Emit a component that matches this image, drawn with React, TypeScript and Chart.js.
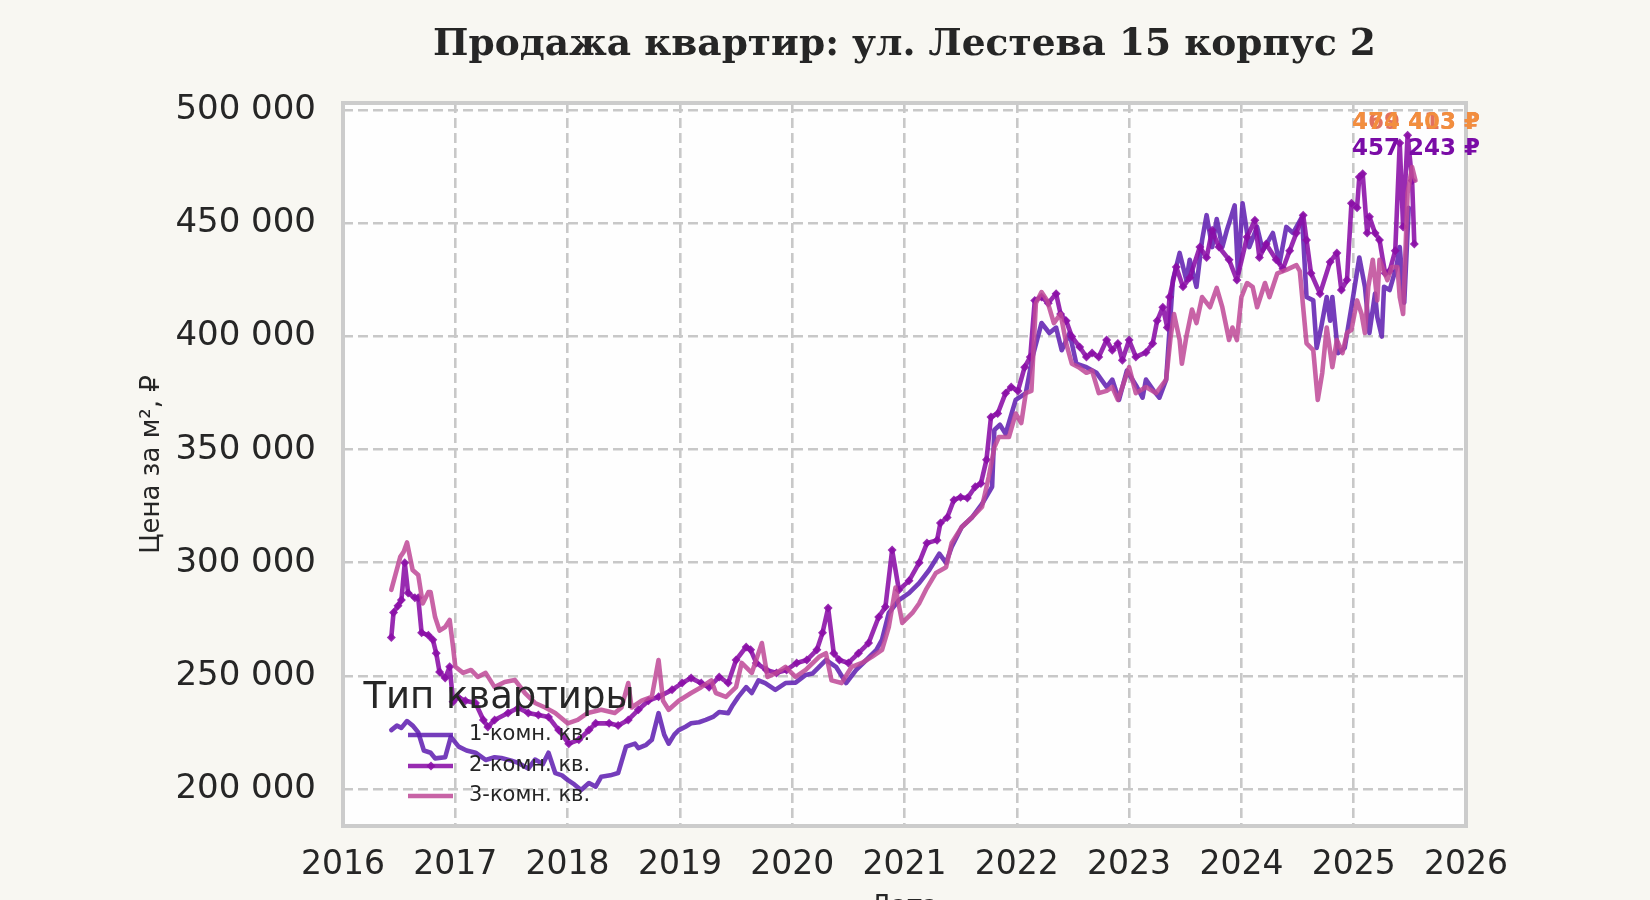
import { useEffect, useRef } from "react";
import { Chart, registerables } from "chart.js";

Chart.register(...registerables);

// 1-комн. кв.
const dates1 = [
  2016.43, 2016.48, 2016.52, 2016.57, 2016.62, 2016.67, 2016.72, 2016.78, 2016.82, 2016.91,
  2016.96, 2017.03, 2017.1, 2017.18, 2017.27, 2017.35, 2017.41, 2017.5, 2017.56, 2017.65,
  2017.71, 2017.78, 2017.83, 2017.89, 2017.95, 2018.0, 2018.06, 2018.12, 2018.19, 2018.25,
  2018.3, 2018.38, 2018.45, 2018.52, 2018.6, 2018.63, 2018.7, 2018.75, 2018.81, 2018.86,
  2018.9, 2018.95, 2018.99, 2019.05, 2019.1, 2019.17, 2019.23, 2019.3, 2019.35, 2019.43,
  2019.47, 2019.52, 2019.59, 2019.64, 2019.7, 2019.76, 2019.85, 2019.94, 2020.03, 2020.12,
  2020.18, 2020.24, 2020.3, 2020.39, 2020.44, 2020.48, 2020.57, 2020.66, 2020.75, 2020.8,
  2020.86, 2020.95, 2021.04, 2021.13, 2021.22, 2021.31, 2021.37, 2021.42, 2021.51, 2021.6,
  2021.69, 2021.78, 2021.8, 2021.85, 2021.9, 2021.99, 2022.08, 2022.14, 2022.22, 2022.29,
  2022.35, 2022.4, 2022.47, 2022.53, 2022.62, 2022.71, 2022.8, 2022.85, 2022.91, 2022.98,
  2023.07, 2023.12, 2023.15, 2023.22, 2023.27, 2023.33, 2023.39, 2023.45, 2023.51, 2023.54,
  2023.6, 2023.65, 2023.69, 2023.74, 2023.78, 2023.83, 2023.87, 2023.94, 2023.97, 2024.01,
  2024.07, 2024.14, 2024.19, 2024.28, 2024.34, 2024.4, 2024.46, 2024.54, 2024.58, 2024.64,
  2024.67, 2024.71, 2024.76, 2024.79, 2024.81, 2024.86, 2024.92, 2024.98, 2025.05, 2025.1,
  2025.14, 2025.19, 2025.21, 2025.25, 2025.27, 2025.32, 2025.38, 2025.41, 2025.45, 2025.49,
];
const values1 = [
  226000, 228000, 227000, 230000, 228000, 225000, 217000, 216000, 213500, 214000,
  223000, 218700, 217000, 216000, 212800, 214000, 213700, 212500, 211500, 209000,
  213000, 211000, 216000, 207000, 206000, 204000, 202000, 199500, 202600, 201000,
  205400, 206000, 207000, 218700, 220000, 218000, 219500, 221700, 233500, 224000,
  220000, 224000, 226000, 227500, 229000, 229500, 230500, 232000, 234000, 233500,
  237000, 240700, 245000, 242400, 248000, 246800, 243800, 246800, 247000, 250400,
  251000, 254000, 257000, 254000, 250000, 246800, 252600, 257000, 261500, 266000,
  277800, 283500, 286600, 291000, 296800, 304000, 300000, 307000, 315800, 320000,
  326000, 333600, 358700, 361000, 357000, 372000, 375000, 391000, 406000, 401600,
  404000, 394000, 401600, 388000, 386500, 384000, 377700, 381000, 372000, 385000,
  377700, 373000, 381000, 376000, 373000, 381000, 425000, 437000, 425000, 434000,
  422000, 442700, 453700, 439600, 452000, 439600, 447000, 458000, 428000, 459000,
  439600, 448500, 438000, 445800, 432500, 448500, 445800, 453000, 417500, 416000,
  395000, 404000, 417500, 407000, 417500, 392700, 395000, 413000, 435000, 422000,
  401600, 419000, 408700, 400000, 422000, 420600, 430800, 439600, 415000, 457000,
];

// 2-комн. кв.
const dates2 = [
  2016.43, 2016.45, 2016.49, 2016.52, 2016.55, 2016.58, 2016.64, 2016.67, 2016.7, 2016.76,
  2016.8, 2016.83, 2016.86, 2016.91, 2016.95, 2016.98, 2017.02, 2017.09, 2017.18, 2017.25,
  2017.29, 2017.35, 2017.47, 2017.56, 2017.65, 2017.74, 2017.83, 2017.92, 2018.01, 2018.1,
  2018.19, 2018.25, 2018.37, 2018.45, 2018.54, 2018.63, 2018.72, 2018.81, 2018.93, 2019.02,
  2019.1, 2019.19, 2019.26, 2019.35, 2019.43, 2019.5, 2019.59, 2019.63, 2019.68, 2019.77,
  2019.86, 2019.95, 2020.04, 2020.13, 2020.22, 2020.27, 2020.32, 2020.37, 2020.42, 2020.5,
  2020.59, 2020.68, 2020.77, 2020.83, 2020.89, 2020.95, 2021.04, 2021.13, 2021.2, 2021.29,
  2021.32, 2021.38, 2021.44, 2021.5, 2021.56, 2021.63, 2021.68, 2021.73, 2021.77, 2021.83,
  2021.9, 2021.95, 2022.01, 2022.07, 2022.12, 2022.16, 2022.22, 2022.28, 2022.35, 2022.39,
  2022.44, 2022.49, 2022.56, 2022.62, 2022.67, 2022.73, 2022.8, 2022.85, 2022.9, 2022.94,
  2023.0, 2023.06, 2023.15, 2023.21, 2023.25, 2023.3, 2023.34, 2023.36, 2023.42, 2023.48,
  2023.54, 2023.63, 2023.69, 2023.74, 2023.8, 2023.89, 2023.96, 2024.05, 2024.12, 2024.16,
  2024.22, 2024.31, 2024.37, 2024.43, 2024.49, 2024.55, 2024.58, 2024.62, 2024.7, 2024.79,
  2024.85, 2024.89, 2024.94, 2024.98, 2025.03, 2025.05, 2025.08, 2025.12, 2025.14, 2025.19,
  2025.23, 2025.28, 2025.32, 2025.37, 2025.41, 2025.44, 2025.48, 2025.52, 2025.54,
];
const values2 = [
  267000, 278000, 281000, 283500, 300000, 286600, 284500, 284500, 269000, 268000,
  266000, 260000, 251700, 249000, 254000, 238500, 240700, 239000, 238000, 230500,
  227400, 230500, 233600, 235800, 233600, 232700, 231800, 226000, 220000, 221700,
  226000, 229000, 229000, 228000, 230500, 235000, 239000, 240700, 243800, 246800,
  249000, 246800, 245000, 249500, 246800, 257000, 262800, 261500, 255700, 252600,
  251300, 252600, 255700, 257000, 261500, 269000, 280000, 260000, 257000, 255700,
  260000, 264500, 276000, 280500, 305600, 288000, 292000, 300000, 308700, 310000,
  317600, 320000, 327800, 329000, 328600, 333600, 335000, 345500, 364500, 366000,
  375000, 377700, 376000, 386500, 391000, 416000, 417500, 414800, 419000, 410000,
  407000, 400000, 395400, 391000, 392700, 391000, 398500, 394000, 397000, 389600,
  398500, 391000, 393000, 397000, 407000, 413000, 404000, 417500, 430800, 422000,
  426000, 439600, 435000, 447000, 439600, 434000, 425000, 444000, 451500, 435000,
  441000, 434000, 430000, 438000, 445800, 453700, 442700, 428000, 419000, 433000,
  437000, 420600, 425000, 459000, 457000, 470600, 472000, 445800, 453000, 445800,
  442700, 428000, 429000, 438000, 485600, 448500, 489000, 469000, 441000,
];

// 3-комн. кв.
const dates3 = [
  2016.43, 2016.51, 2016.54, 2016.57, 2016.62, 2016.67, 2016.71, 2016.76, 2016.78, 2016.82,
  2016.86, 2016.91, 2016.95, 2016.98, 2017.0, 2017.07, 2017.14, 2017.2, 2017.27, 2017.35,
  2017.44, 2017.53, 2017.62, 2017.71, 2017.8, 2017.89, 2018.0, 2018.09, 2018.18, 2018.3,
  2018.42, 2018.48, 2018.54, 2018.57, 2018.66, 2018.75, 2018.81, 2018.85, 2018.9, 2018.99,
  2019.1, 2019.19, 2019.28, 2019.32, 2019.41, 2019.5, 2019.55, 2019.64, 2019.73, 2019.78,
  2019.86, 2019.94, 2020.03, 2020.12, 2020.24, 2020.3, 2020.35, 2020.44, 2020.53, 2020.62,
  2020.71, 2020.8, 2020.86, 2020.92, 2020.98, 2021.07, 2021.13, 2021.19, 2021.28, 2021.37,
  2021.42, 2021.51, 2021.6, 2021.69, 2021.75, 2021.8, 2021.84, 2021.93, 2021.99, 2022.04,
  2022.08, 2022.13, 2022.17, 2022.22, 2022.27, 2022.33, 2022.39, 2022.44, 2022.49, 2022.55,
  2022.62, 2022.67, 2022.73, 2022.8, 2022.85, 2022.9, 2022.94, 2023.0, 2023.06, 2023.15,
  2023.24, 2023.33, 2023.37, 2023.4, 2023.45, 2023.47, 2023.51, 2023.56, 2023.6, 2023.65,
  2023.72, 2023.78, 2023.83, 2023.89, 2023.92, 2023.96, 2024.0, 2024.05, 2024.1, 2024.14,
  2024.21, 2024.25, 2024.32, 2024.4, 2024.49, 2024.52, 2024.58, 2024.64, 2024.68, 2024.72,
  2024.76, 2024.81, 2024.85, 2024.9, 2024.94, 2024.98, 2025.03, 2025.07, 2025.1, 2025.13,
  2025.17, 2025.21, 2025.23, 2025.3, 2025.34, 2025.39, 2025.41, 2025.44, 2025.48, 2025.52,
  2025.55,
];
const values3 = [
  288000, 302600, 304800, 309000, 296800, 294600, 282000, 287000, 287000, 276000,
  270000, 271600, 274700, 262800, 254000, 251300, 252600, 249500, 251300, 245000,
  247300, 248200, 242400, 238000, 236000, 233600, 229000, 230500, 233600, 235000,
  233600, 236000, 246800, 236000, 239000, 240700, 257000, 239000, 235000, 239000,
  242400, 245000, 248000, 242400, 240700, 245000, 255700, 251300, 264500, 249500,
  251300, 254000, 249500, 252600, 258400, 260000, 248000, 246800, 254000, 255700,
  258400, 261500, 271600, 289000, 273400, 277800, 282000, 288000, 295500, 298000,
  308700, 315800, 320000, 324700, 337900, 351000, 355600, 355600, 366000, 361800,
  375000, 376000, 414800, 419700, 416000, 406000, 410000, 397000, 388000, 386500,
  384000, 385000, 375000, 376000, 377700, 372000, 377700, 386500, 375000, 377700,
  375000, 381000, 400000, 410000, 398500, 388000, 400000, 412000, 406000, 417500,
  413000, 421500, 413000, 398500, 404000, 398500, 417500, 423700, 422000, 413000,
  423700, 417500, 428000, 429500, 431600, 429000, 397000, 394000, 372000, 384000,
  404000, 386500, 398500, 392700, 401600, 403000, 416000, 410000, 401600, 422000,
  434000, 416000, 434000, 425000, 430800, 430800, 417500, 410000, 463500, 475000,
  469000,
];

const seriesNames = ["1-комн. кв.", "2-комн. кв.", "3-комн. кв."];
const seriesColors = ["rgba(98, 34, 178, 0.88)", "rgba(138, 14, 166, 0.88)", "rgba(190, 72, 150, 0.85)"];
const xTicks = [2016, 2017, 2018, 2019, 2020, 2021, 2022, 2023, 2024, 2025, 2026];
const yTicks = [200000, 250000, 300000, 350000, 400000, 450000, 500000];
const endLabels = ["469 413 ₽", "474 403 ₽", "457 243 ₽"];
const endLabelColors = ["#e2715f", "#f28e3e", "#7a0ca6"];

const TITLE = "Продажа квартир: ул. Лестева 15 корпус 2";
const LEGEND_TITLE = "Тип квартиры";
const Y_TITLE = "Цена за м², ₽";
const X_TITLE = "Дата";
const INK = "#262626";
const GRID = "#c8c8c8";

const fmt = (v: number) => String(Math.round(v)).replace(/\B(?=(\d{3})+(?!\d))/g, " ");

const toPoints = (xs: number[], ys: number[]) => xs.map((x, i) => ({ x, y: ys[i] }));

const decor = {
  id: "decor",
  beforeDraw(chart: any) {
    const { ctx, chartArea: a } = chart;
    ctx.save();
    ctx.fillStyle = "#f8f7f2";
    ctx.fillRect(0, 0, chart.width, chart.height);
    ctx.fillStyle = "#fefefe";
    ctx.fillRect(a.left, a.top, a.right - a.left, a.bottom - a.top);
    ctx.restore();
  },
  afterDraw(chart: any) {
    const { ctx, chartArea: a } = chart;
    ctx.save();

    // рамка
    ctx.strokeStyle = "#cccccc";
    ctx.lineWidth = 4;
    ctx.strokeRect(a.left, a.top, a.right - a.left, a.bottom - a.top);

    // заголовок
    ctx.fillStyle = INK;
    ctx.textAlign = "center";
    ctx.textBaseline = "alphabetic";
    ctx.font = "bold 37.5px 'DejaVu Serif'";
    ctx.fillText(TITLE, (a.left + a.right) / 2, 55);

    // подписи осей
    ctx.font = "26px 'DejaVu Sans'";
    ctx.fillText(X_TITLE, (a.left + a.right) / 2, 914);
    ctx.save();
    ctx.translate(152, (a.top + a.bottom) / 2);
    ctx.rotate(-Math.PI / 2);
    ctx.textBaseline = "middle";
    ctx.fillText(Y_TITLE, 0, 0);
    ctx.restore();

    // легенда
    ctx.font = "37px 'DejaVu Sans'";
    ctx.fillText(LEGEND_TITLE, 499, 708);
    ctx.textAlign = "left";
    ctx.textBaseline = "middle";
    ctx.font = "21px 'DejaVu Sans'";
    const rows = [735, 766, 796];
    seriesNames.forEach((name, i) => {
      ctx.strokeStyle = seriesColors[i];
      ctx.lineWidth = 4.5;
      ctx.beginPath();
      ctx.moveTo(408, rows[i]);
      ctx.lineTo(453, rows[i]);
      ctx.stroke();
      if (i === 1) {
        ctx.fillStyle = seriesColors[i];
        ctx.beginPath();
        ctx.moveTo(431, rows[i] - 4.5);
        ctx.lineTo(435.5, rows[i]);
        ctx.lineTo(431, rows[i] + 4.5);
        ctx.lineTo(426.5, rows[i]);
        ctx.closePath();
        ctx.fill();
      }
      ctx.fillStyle = INK;
      ctx.fillText(name, 469, rows[i]);
    });

    // последние значения
    ctx.textBaseline = "alphabetic";
    ctx.font = "bold 23px 'DejaVu Sans'";
    const ys = [129, 129, 155];
    endLabels.forEach((t, i) => {
      ctx.fillStyle = endLabelColors[i];
      ctx.fillText(t, 1352, ys[i]);
    });

    ctx.restore();
  },
};

const App = () => {
  const canvasRef = useRef<HTMLCanvasElement | null>(null);

  useEffect(() => {
    if (!canvasRef.current) return;
    Chart.defaults.font.family = "'DejaVu Sans'";

    const line = (i: number, xs: number[], ys: number[], order: number) => ({
      label: seriesNames[i],
      data: toPoints(xs, ys),
      borderColor: seriesColors[i],
      backgroundColor: seriesColors[i],
      borderWidth: 4.6,
      borderJoinStyle: "round" as const,
      borderCapStyle: "round" as const,
      pointRadius: i === 1 ? 4.5 : 0,
      pointStyle: "rectRot" as const,
      pointBorderWidth: 0,
      tension: 0,
      fill: false,
      order,
    });

    const chart = new Chart(canvasRef.current, {
      type: "line",
      data: {
        datasets: [
          line(0, dates1, values1, 2),
          line(1, dates2, values2, 1),
          line(2, dates3, values3, 0),
        ],
      },
      options: {
        animation: false,
        responsive: false,
        devicePixelRatio: 1,
        layout: { padding: { top: 103, right: 184, bottom: 0, left: 0 } },
        plugins: {
          legend: { display: false },
          title: { display: false },
          tooltip: { enabled: false },
        },
        scales: {
          x: {
            type: "linear",
            min: 2016,
            max: 2026,
            afterBuildTicks: (s: any) => {
              s.ticks = xTicks.map((v) => ({ value: v }));
            },
            afterFit: (s: any) => {
              s.height = 74;
            },
            ticks: {
              autoSkip: false,
              maxRotation: 0,
              padding: 20,
              color: INK,
              font: { size: 33 },
              callback: (v: any) => String(v),
            },
            grid: { color: GRID, lineWidth: 2.6, drawTicks: false },
            border: { display: false, dash: [10, 5] },
          },
          y: {
            type: "linear",
            min: 183600,
            max: 503300,
            afterBuildTicks: (s: any) => {
              s.ticks = yTicks.map((v) => ({ value: v }));
            },
            afterFit: (s: any) => {
              s.width = 343;
            },
            ticks: {
              padding: 27,
              color: INK,
              font: { size: 34 },
              callback: (v: any) => fmt(Number(v)),
            },
            grid: { color: GRID, lineWidth: 2.6, drawTicks: false },
            border: { display: false, dash: [10, 5] },
          },
        },
      },
      plugins: [decor],
    });

    return () => {
      chart.destroy();
    };
  }, []);

  return (
    <div style={{ position: "fixed", left: 0, top: 0, width: 1650, height: 900, background: "#f8f7f2" }}>
      <canvas ref={canvasRef} width={1650} height={900} style={{ display: "block" }} />
    </div>
  );
};

export default App;
